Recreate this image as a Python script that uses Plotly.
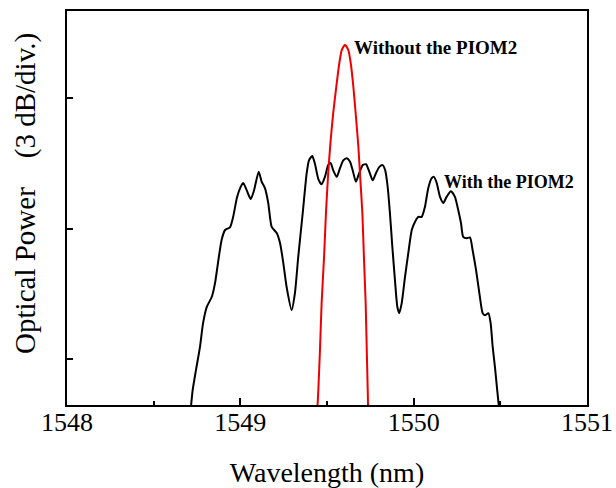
import plotly.graph_objects as go

# With the PIOM2 (black)
wl_with = [1548.715, 1548.725, 1548.744, 1548.767, 1548.785, 1548.806, 1548.835, 1548.854,
           1548.871, 1548.892, 1548.912, 1548.940, 1548.958, 1548.981, 1549.002, 1549.017,
           1549.037, 1549.060, 1549.079, 1549.106, 1549.123, 1549.142, 1549.161, 1549.181,
           1549.210, 1549.229, 1549.248, 1549.267, 1549.296, 1549.315, 1549.334, 1549.360,
           1549.383, 1549.396, 1549.415, 1549.431, 1549.450, 1549.469, 1549.488, 1549.507,
           1549.521, 1549.536, 1549.556, 1549.575, 1549.594, 1549.614, 1549.633, 1549.652,
           1549.667, 1549.686, 1549.706, 1549.725, 1549.744, 1549.764, 1549.783, 1549.802,
           1549.821, 1549.836, 1549.850, 1549.863, 1549.877, 1549.892, 1549.906, 1549.917,
           1549.931, 1549.950, 1549.969, 1549.989, 1550.008, 1550.027, 1550.046, 1550.065,
           1550.084, 1550.104, 1550.117, 1550.133, 1550.152, 1550.171, 1550.190, 1550.215,
           1550.238, 1550.257, 1550.273, 1550.286, 1550.306, 1550.325, 1550.340, 1550.360,
           1550.379, 1550.398, 1550.411, 1550.431, 1550.444, 1550.456, 1550.469, 1550.482,
           1550.492]
pw_with = [-9.10, -8.71, -8.25, -7.72, -7.17, -6.80, -6.57, -6.25,
           -5.79, -5.26, -5.03, -4.97, -4.74, -4.28, -4.04, -3.95,
           -4.12, -4.32, -4.12, -3.69, -3.92, -4.07, -4.41, -4.96,
           -5.10, -5.33, -5.79, -6.34, -6.87, -6.48, -5.65, -4.64,
           -3.72, -3.43, -3.33, -3.52, -3.86, -3.98, -3.81, -3.54,
           -3.49, -3.66, -3.81, -3.61, -3.43, -3.38, -3.46, -3.72,
           -3.92, -3.72, -3.54, -3.52, -3.69, -3.89, -3.72, -3.58,
           -3.54, -3.66, -4.04, -4.64, -5.42, -6.18, -6.80, -6.94,
           -6.71, -6.11, -5.56, -5.03, -4.84, -4.73, -4.73, -4.50,
           -4.07, -3.84, -3.81, -3.95, -4.27, -4.41, -4.27, -4.14,
           -4.27, -4.57, -4.87, -5.19, -5.22, -5.20, -5.49, -5.95,
           -6.48, -6.94, -6.99, -6.94, -7.17, -7.72, -8.18, -8.71,
           -9.10]

# Without the PIOM2 (red)
wl_without = [1549.445, 1549.450, 1549.460, 1549.469, 1549.483, 1549.494, 1549.507, 1549.521,
              1549.536, 1549.556, 1549.571, 1549.585, 1549.604, 1549.623, 1549.637, 1549.652,
              1549.667, 1549.681, 1549.690, 1549.704, 1549.713, 1549.723, 1549.729, 1549.735,
              1549.737]
pw_without = [-9.10, -8.71, -7.72, -6.71, -5.65, -4.64, -3.72, -2.97,
              -2.34, -1.66, -1.20, -0.90, -0.78, -0.90, -1.20, -1.74,
              -2.43, -3.12, -3.72, -4.64, -5.65, -6.71, -7.72, -8.71,
              -9.10]

x_ticks = [1548, 1549, 1550, 1551]
x_tick_labels = ["1548", "1549", "1550", "1551"]
y_ticks = [-8, -5, -2]

FONT = "Liberation Serif, Times New Roman, serif"
NB = "\u00a0"

fig = go.Figure()
fig.add_trace(go.Scatter(x=wl_with, y=pw_with, mode="lines",
                         line=dict(color="black", width=2, shape="spline", smoothing=0.6),
                         showlegend=False))
fig.add_trace(go.Scatter(x=wl_without, y=pw_without, mode="lines",
                         line=dict(color="#ee0000", width=2, shape="spline", smoothing=0.6),
                         showlegend=False))

fig.add_annotation(x=1549.645, y=-0.84, text="<b>Without the PIOM2</b>", showarrow=False,
                   xanchor="left", yanchor="middle",
                   font=dict(family=FONT, size=19, color="black"))
fig.add_annotation(x=1550.165, y=-3.92, text="<b>With the PIOM2</b>", showarrow=False,
                   xanchor="left", yanchor="middle",
                   font=dict(family=FONT, size=18, color="black"))
# y-axis title
fig.add_annotation(xref="paper", yref="paper", x=-0.081, y=0.538, textangle=-90,
                   text="Optical Power" + NB * 4 + "(3 dB/div.)", showarrow=False,
                   xanchor="center", yanchor="middle",
                   font=dict(family=FONT, size=29, color="black"))

fig.update_layout(
    width=616, height=488,
    margin=dict(l=67, r=29, t=11, b=83),
    paper_bgcolor="white", plot_bgcolor="white",
    font=dict(family=FONT, color="black"),
    xaxis=dict(range=[1548, 1551], tickvals=x_ticks, ticktext=x_tick_labels,
               ticks="inside", ticklen=7, tickwidth=1.5, tickcolor="black",
               minor=dict(ticks="inside", ticklen=4, tickwidth=1.5, tickcolor="black",
                          tickvals=[1548.5, 1549.5, 1550.5]),
               showline=True, linewidth=2, linecolor="black", mirror=True,
               showgrid=False, zeroline=False, automargin=False,
               tickfont=dict(family=FONT, size=26, color="black"),
               ticklabelstandoff=-7,
               title=dict(text="Wavelength (nm)", font=dict(family=FONT, size=28, color="black"),
                          standoff=26)),
    yaxis=dict(range=[-9.05, 0], tickvals=y_ticks, showticklabels=False,
               ticks="inside", ticklen=6, tickwidth=1.5, tickcolor="black",
               showline=True, linewidth=2, linecolor="black", mirror=True,
               showgrid=False, zeroline=False, automargin=False),
)

fig.write_html("out.html", config={"displayModeBar": False},
               post_script="document.body.style.margin='0';")
